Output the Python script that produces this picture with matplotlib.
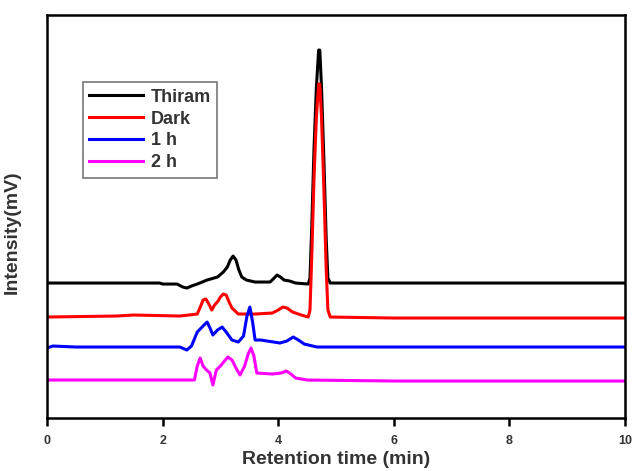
import matplotlib.pyplot as plt

# values (y in arbitrary offset units)
thiram_x = [0, 1.95, 2.0, 2.25, 2.35, 2.42, 2.5, 2.6, 2.77, 2.95, 3.05, 3.12, 3.17, 3.22, 3.27,
            3.32, 3.37, 3.45, 3.6, 3.86, 3.93, 3.98, 4.04, 4.1, 4.2, 4.3, 4.52, 4.55, 4.58,
            4.62, 4.66, 4.70, 4.72, 4.75, 4.79, 4.83, 4.86, 4.9, 10]
thiram_y = [135, 135, 134, 134, 131, 130, 132, 134, 138, 141, 146, 151, 158, 162, 158,
            148, 141, 138, 136, 136, 140, 143, 141, 138, 137, 135, 134, 140, 190,
            270, 330, 368, 368, 330, 260, 180, 140, 135, 135]

dark_x = [0, 1.2, 1.5, 2.3, 2.6, 2.66, 2.7, 2.75, 2.8, 2.85, 2.9, 2.96, 3.0, 3.05, 3.1, 3.15,
          3.2, 3.31, 3.6, 3.9, 4.0, 4.08, 4.15, 4.25, 4.4, 4.52, 4.55, 4.58, 4.62, 4.66,
          4.70, 4.72, 4.75, 4.79, 4.83, 4.86, 4.9, 6.0, 10]
dark_y = [101, 102, 103, 102, 104, 112, 118, 119, 114, 108, 113, 117, 121, 124, 123, 116,
          110, 104, 104, 105, 108, 111, 110, 106, 103, 101, 108, 160, 240, 300,
          334, 334, 300, 230, 150, 108, 101, 100, 100]

h1_x = [0, 0.1, 0.5, 2.3, 2.42, 2.5, 2.6, 2.7, 2.77, 2.82, 2.87, 2.95, 3.03, 3.1, 3.2, 3.31,
        3.4, 3.46, 3.51, 3.56, 3.6, 3.7, 4.03, 4.15, 4.26, 4.35, 4.45, 4.67, 10]
h1_y = [70, 72, 71, 71, 68, 72, 86, 92, 96, 90, 83, 88, 91, 86, 78, 76,
        82, 102, 111, 95, 78, 78, 75, 77, 81, 78, 74, 71, 71]

h2_x = [0, 2.55, 2.6, 2.65, 2.7, 2.76, 2.82, 2.87, 2.93, 3.0, 3.07, 3.13, 3.2, 3.27, 3.34,
        3.42, 3.48, 3.53, 3.58, 3.63, 3.9, 4.05, 4.14, 4.22, 4.3, 4.5, 6.0, 10]
h2_y = [38, 38, 52, 60, 52, 48, 45, 33, 48, 52, 57, 61, 58, 50, 43,
        52, 64, 70, 62, 45, 44, 45, 47, 44, 40, 38, 37, 37]

xticks = [0, 2, 4, 6, 8, 10]

plt.rc('font', family='Liberation Sans', weight='bold')

fig = plt.figure(figsize=(6.42, 4.71), dpi=100)
ax = fig.add_axes([0.0732, 0.1125, 0.9003, 0.8555])

lw = 2.2
ax.plot(thiram_x, thiram_y, color='black', lw=lw, label='Thiram')
ax.plot(dark_x, dark_y, color='red', lw=lw, label='Dark')
ax.plot(h1_x, h1_y, color='blue', lw=lw, label='1 h')
ax.plot(h2_x, h2_y, color='magenta', lw=lw, label='2 h')

ax.set_xlim(0, 10)
ax.set_ylim(0, 403)
ax.set_xticks(xticks)
ax.set_xticklabels([str(t) for t in xticks], fontsize=9, fontweight='bold', color='#333333')
ax.set_yticks([])
ax.tick_params(axis='x', direction='out', length=6, width=1.8, pad=6)

for s in ax.spines.values():
    s.set_linewidth(1.8)

ax.set_xlabel('Retention time (min)', fontsize=14, fontweight='bold', color='#333333', labelpad=3)
ax.set_ylabel('Intensity(mV)', fontsize=14, fontweight='bold', color='#333333')
ax.yaxis.set_label_coords(-0.045, 0.46)

leg = ax.legend(loc='upper left', bbox_to_anchor=(0.062, 0.833), fontsize=13,
                handlelength=3.0, handletextpad=0.4, labelspacing=0.27,
                fancybox=False, edgecolor='#555555', borderpad=0.35, borderaxespad=0)
leg.get_frame().set_linewidth(1.2)
for t in leg.get_texts():
    t.set_color('#333333')

fig.savefig('out.png', dpi=100)
